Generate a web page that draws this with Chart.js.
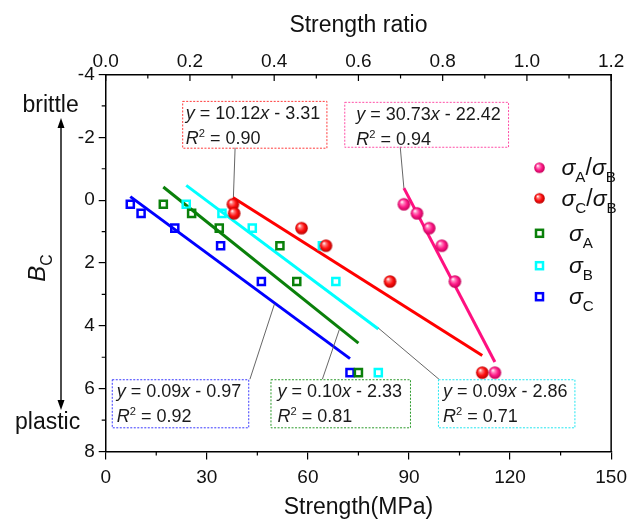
<!DOCTYPE html>
<html>
<head>
<meta charset="utf-8">
<script src="https://cdn.jsdelivr.net/npm/chart.js@4.4.1/dist/chart.umd.min.js"></script>
<style>
  html, body { margin: 0; padding: 0; background: #fff; }
  #wrap { width: 634px; height: 522px; }
</style>
</head>
<body>
<div id="wrap"><canvas id="c" width="634" height="522"></canvas></div>
<script>
// Brittleness index B_C of the six samples
const bc = [0.13, 0.42, 0.89, 1.45, 2.59, 5.49];
// Strengths in MPa
const strengthA = [17.1, 25.5, 33.7, 51.7, 56.7, 75.0];
const strengthB = [23.9, 34.5, 43.5, 64.3, 68.3, 80.9];
const strengthC = [7.3, 10.5, 20.5, 34.1, 46.2, 72.5];
// Strength ratios
const ratioAB = [0.708, 0.739, 0.768, 0.798, 0.829, 0.924];
const ratioCB = [0.302, 0.305, 0.465, 0.523, 0.675, 0.894];
// Axis ticks
const strengthTicks = [0, 30, 60, 90, 120, 150];
const ratioTicks = [0.0, 0.2, 0.4, 0.6, 0.8, 1.0, 1.2];
const bcTicks = [-4, -2, 0, 2, 4, 6, 8];
// Fit equations as printed
const eqAB = ['30.73', '22.42', '0.94'];
const eqCB = ['10.12', '3.31', '0.90'];
const eqA = ['0.10', '2.33', '0.81'];
const eqB = ['0.09', '2.86', '0.71'];
const eqC = ['0.09', '0.97', '0.92'];

const FONT = '"Liberation Sans", Arial, Helvetica, sans-serif';
const COL = { A: '#0a800a', B: '#00ffff', C: '#0000ff', AB: '#ff1080', CB: '#ff0000' };

function leastSquares(xs, ys) {
  const n = xs.length;
  const mx = xs.reduce((s, v) => s + v, 0) / n;
  const my = ys.reduce((s, v) => s + v, 0) / n;
  let sxy = 0, sxx = 0;
  for (let i = 0; i < n; i++) { sxy += (xs[i] - mx) * (ys[i] - my); sxx += (xs[i] - mx) ** 2; }
  const b = sxy / sxx;
  return { a: my - b * mx, b };
}
function fitSegment(xs) {
  const f = leastSquares(xs, bc);
  const lo = Math.min(...xs), hi = Math.max(...xs);
  return [{ x: lo, y: f.a + f.b * lo }, { x: hi, y: f.a + f.b * hi }];
}
const pts = xs => xs.map((v, i) => ({ x: v, y: bc[i] }));

function makeBall(r, light, mid, dark) {
  const d = Math.ceil(r * 2) + 2;
  const c = document.createElement('canvas');
  c.width = d; c.height = d;
  const g = c.getContext('2d');
  const cx = d / 2, cy = d / 2;
  const grad = g.createRadialGradient(cx - r * 0.35, cy - r * 0.4, r * 0.05, cx, cy, r);
  grad.addColorStop(0, '#ffffff');
  grad.addColorStop(0.22, light);
  grad.addColorStop(0.6, mid);
  grad.addColorStop(1, dark);
  g.fillStyle = grad;
  g.beginPath(); g.arc(cx, cy, r, 0, Math.PI * 2); g.fill();
  return c;
}
const ballAB = makeBall(6.3, '#ff8cc4', '#ff1a88', '#c20058');
const ballCB = makeBall(6.3, '#ff8080', '#ff1010', '#b80000');
const ballABs = makeBall(5.3, '#ff8cc4', '#ff1a88', '#c20058');
const ballCBs = makeBall(5.3, '#ff8080', '#ff1010', '#b80000');

// rich text: parts = [[text, style]], style contains 'i', 'sup', 'sub'
function drawRich(ctx, x, y, parts, size, measureOnly) {
  let cx = x;
  for (const [t, st] of parts) {
    let fs = size, dy = 0;
    if (st.includes('sup')) { fs = size * 0.62; dy = -size * 0.4; }
    if (st.includes('sub')) { fs = size * 0.66; dy = size * 0.3; }
    ctx.font = (st.includes('i') ? 'italic ' : '') + fs + 'px ' + FONT;
    if (!measureOnly) ctx.fillText(t, cx, y + dy);
    cx += ctx.measureText(t).width;
  }
  return cx - x;
}
const eqParts = e => [['y', 'i'], [' = ' + e[0], ''], ['x', 'i'], [' - ' + e[1], '']];
const r2Parts = e => [['R', 'i'], ['2', 'sup'], [' = ' + e[2], '']];

// Equation boxes placed in (MPa, B_C) coordinates
const notes = [
  { eq: eqCB, color: '#ff3b3b', box: [22.7, 65.5, -3.16, -1.67], pad: 3.5, lead: [38.4, -1.67, 37.9, -0.1] },
  { eq: eqAB, color: '#ff4da6', box: [70.8, 119.4, -3.13, -1.70], pad: 12, lead: [87.4, -1.70, 88.5, -0.38] },
  { eq: eqC, color: '#3a3aff', box: [1.8, 42.3, 5.70, 7.23], pad: 5, lead: [42.8, 5.70, 50.1, 3.30] },
  { eq: eqA, color: '#2a9a2a', box: [48.9, 90.3, 5.70, 7.23], pad: 7, lead: [64.3, 5.70, 69.3, 4.13] },
  { eq: eqB, color: '#22e6f0', box: [98.6, 139.1, 5.70, 7.23], pad: 5, lead: [98.9, 5.70, 80.9, 4.07] }
];

const decor = {
  id: 'decor',
  afterDatasetsDraw(chart) {
    const { ctx } = chart;
    const sx = chart.scales.x, sy = chart.scales.y;
    ctx.save();
    for (const n of notes) {
      const [x0, x1, y0, y1] = n.box;
      const L = sx.getPixelForValue(x0), R = sx.getPixelForValue(x1);
      const T = sy.getPixelForValue(y0), B = sy.getPixelForValue(y1);
      ctx.strokeStyle = '#555';
      ctx.lineWidth = 0.9;
      ctx.setLineDash([]);
      ctx.beginPath();
      ctx.moveTo(sx.getPixelForValue(n.lead[0]), sy.getPixelForValue(n.lead[1]));
      ctx.lineTo(sx.getPixelForValue(n.lead[2]), sy.getPixelForValue(n.lead[3]));
      ctx.stroke();
      ctx.strokeStyle = n.color;
      ctx.lineWidth = 1;
      ctx.setLineDash([2, 1.5]);
      ctx.strokeRect(L + 0.5, T + 0.5, R - L, B - T);
      ctx.setLineDash([]);
      ctx.fillStyle = '#1a1a1a';
      ctx.textBaseline = 'alphabetic';
      ctx.textAlign = 'left';
      drawRich(ctx, L + n.pad, T + 18, eqParts(n.eq), 18);
      drawRich(ctx, L + n.pad, T + 43, r2Parts(n.eq), 18);
    }
    ctx.restore();
  },
  afterDraw(chart) {
    const { ctx, chartArea: a } = chart;
    const sx = chart.scales.x, sx2 = chart.scales.x2, sy = chart.scales.y;
    ctx.save();
    ctx.strokeStyle = '#000';
    ctx.lineWidth = 1.5;
    // right frame
    ctx.beginPath(); ctx.moveTo(a.right, a.top); ctx.lineTo(a.right, a.bottom); ctx.stroke();
    ctx.lineWidth = 1.2;
    ctx.beginPath();
    // minor ticks, bottom
    for (let v = 15; v < 150; v += 30) { const p = sx.getPixelForValue(v); ctx.moveTo(p, a.bottom); ctx.lineTo(p, a.bottom + 4); }
    // minor ticks, left
    for (let v = -3; v < 8; v += 2) { const p = sy.getPixelForValue(v); ctx.moveTo(a.left, p); ctx.lineTo(a.left - 4, p); }
    // top axis ticks point inward
    ratioTicks.forEach(v => { const p = sx2.getPixelForValue(v); ctx.moveTo(p, a.top); ctx.lineTo(p, a.top + 6.5); });
    for (let k = 0; k < 6; k++) { const p = sx2.getPixelForValue(0.1 + 0.2 * k); ctx.moveTo(p, a.top); ctx.lineTo(p, a.top + 4); }
    ctx.stroke();

    // axis titles
    ctx.fillStyle = '#111';
    ctx.textAlign = 'center';
    ctx.textBaseline = 'alphabetic';
    ctx.font = '23px ' + FONT;
    const cx = (a.left + a.right) / 2;
    ctx.fillText('Strength ratio', cx, 32);
    ctx.fillText('Strength(MPa)', cx, 514);
    ctx.textAlign = 'left';
    ctx.fillText('brittle', 22.5, 112);
    ctx.fillText('plastic', 15, 429);

    // B_C rotated
    ctx.save();
    ctx.translate(45, 268);
    ctx.rotate(-Math.PI / 2);
    const yParts = [['B', 'i'], ['C', 'sub']];
    const w = drawRich(ctx, 0, 0, yParts, 24, true);
    drawRich(ctx, -w / 2, 0, yParts, 24);
    ctx.restore();

    // double arrow
    ctx.strokeStyle = '#000';
    ctx.fillStyle = '#000';
    ctx.lineWidth = 1.4;
    const ax = 61, top = 118, bot = 410;
    ctx.beginPath(); ctx.moveTo(ax, top + 6); ctx.lineTo(ax, bot - 6); ctx.stroke();
    ctx.beginPath(); ctx.moveTo(ax, top); ctx.lineTo(ax - 3.5, top + 10); ctx.lineTo(ax + 3.5, top + 10); ctx.closePath(); ctx.fill();
    ctx.beginPath(); ctx.moveTo(ax, bot); ctx.lineTo(ax - 3.5, bot - 10); ctx.lineTo(ax + 3.5, bot - 10); ctx.closePath(); ctx.fill();

    // legend
    const items = [
      { y: 167.7, tx: 561.5, ball: ballABs, parts: [['σ', 'i'], ['A', 'sub'], ['/', ''], ['σ', 'i'], ['B', 'sub']] },
      { y: 198.3, tx: 561.5, ball: ballCBs, parts: [['σ', 'i'], ['C', 'sub'], ['/', ''], ['σ', 'i'], ['B', 'sub']] },
      { y: 233.3, tx: 569, sq: COL.A, parts: [['σ', 'i'], ['A', 'sub']] },
      { y: 265.7, tx: 569, sq: COL.B, parts: [['σ', 'i'], ['B', 'sub']] },
      { y: 296.7, tx: 569, sq: COL.C, parts: [['σ', 'i'], ['C', 'sub']] }
    ];
    const mx = 539.5;
    for (const it of items) {
      if (it.ball) {
        ctx.drawImage(it.ball, mx - it.ball.width / 2, it.y - it.ball.height / 2);
      } else {
        ctx.strokeStyle = it.sq; ctx.lineWidth = 2.5;
        ctx.strokeRect(mx - 3.5, it.y - 3.5, 7, 7);
      }
      ctx.fillStyle = '#111';
      drawRich(ctx, it.tx, it.y + 7.5, it.parts, 23);
    }
    ctx.restore();
  }
};

const tickFont = { family: FONT, size: 19 };

new Chart(document.getElementById('c'), {
  type: 'scatter',
  data: {
    datasets: [
      { label: 'σA/σB', data: pts(ratioAB), xAxisID: 'x2', pointStyle: ballAB, order: 1 },
      { label: 'σC/σB', data: pts(ratioCB), xAxisID: 'x2', pointStyle: ballCB, order: 1 },
      { label: 'σA', data: pts(strengthA), xAxisID: 'x', pointStyle: 'rect', pointRadius: 5, borderWidth: 2.5, borderColor: COL.A, backgroundColor: 'rgba(0,0,0,0)', order: 2 },
      { label: 'σB', data: pts(strengthB), xAxisID: 'x', pointStyle: 'rect', pointRadius: 5, borderWidth: 2.5, borderColor: COL.B, backgroundColor: 'rgba(0,0,0,0)', order: 2 },
      { label: 'σC', data: pts(strengthC), xAxisID: 'x', pointStyle: 'rect', pointRadius: 5, borderWidth: 2.5, borderColor: COL.C, backgroundColor: 'rgba(0,0,0,0)', order: 2 },
      { label: 'fit σA/σB', data: fitSegment(ratioAB), xAxisID: 'x2', showLine: true, pointRadius: 0, borderWidth: 3, borderColor: COL.AB, order: 3 },
      { label: 'fit σC/σB', data: fitSegment(ratioCB), xAxisID: 'x2', showLine: true, pointRadius: 0, borderWidth: 3, borderColor: COL.CB, order: 3 },
      { label: 'fit σA', data: fitSegment(strengthA), xAxisID: 'x', showLine: true, pointRadius: 0, borderWidth: 3, borderColor: COL.A, order: 3 },
      { label: 'fit σB', data: fitSegment(strengthB), xAxisID: 'x', showLine: true, pointRadius: 0, borderWidth: 3, borderColor: COL.B, order: 3 },
      { label: 'fit σC', data: fitSegment(strengthC), xAxisID: 'x', showLine: true, pointRadius: 0, borderWidth: 3, borderColor: COL.C, order: 3 }
    ]
  },
  options: {
    responsive: false,
    animation: false,
    events: [],
    devicePixelRatio: 1,
    layout: { padding: { left: 0, right: 16.5, top: 0, bottom: 0 } },
    plugins: { legend: { display: false }, tooltip: { enabled: false } },
    scales: {
      x: {
        type: 'linear', position: 'bottom', min: 0, max: 150,
        afterFit: s => { s.height = 70.5; },
        afterBuildTicks: s => { s.ticks = strengthTicks.map(v => ({ value: v })); },
        grid: { display: true, drawOnChartArea: false, drawTicks: true, tickLength: 8, color: '#000', lineWidth: 1.2 },
        border: { display: true, color: '#000', width: 1.5 },
        ticks: { font: tickFont, color: '#111', padding: 7, maxRotation: 0, autoSkip: false }
      },
      x2: {
        type: 'linear', position: 'top', min: 0, max: 1.2,
        afterFit: s => { s.height = 74.5; },
        afterBuildTicks: s => { s.ticks = ratioTicks.map(v => ({ value: v })); },
        grid: { display: false, drawTicks: false, tickLength: 0 },
        border: { display: true, color: '#000', width: 1.5 },
        ticks: { font: tickFont, color: '#111', padding: 1, maxRotation: 0, autoSkip: false, callback: v => v.toFixed(1) }
      },
      y: {
        type: 'linear', position: 'left', reverse: true, min: -4, max: 8,
        afterFit: s => { s.width = 105.7; },
        afterBuildTicks: s => { s.ticks = bcTicks.map(v => ({ value: v })); },
        grid: { display: true, drawOnChartArea: false, drawTicks: true, tickLength: 7, color: '#000', lineWidth: 1.2 },
        border: { display: true, color: '#000', width: 1.5 },
        ticks: { font: tickFont, color: '#111', padding: 4, autoSkip: false }
      }
    }
  },
  plugins: [decor]
});
</script>
</body>
</html>
